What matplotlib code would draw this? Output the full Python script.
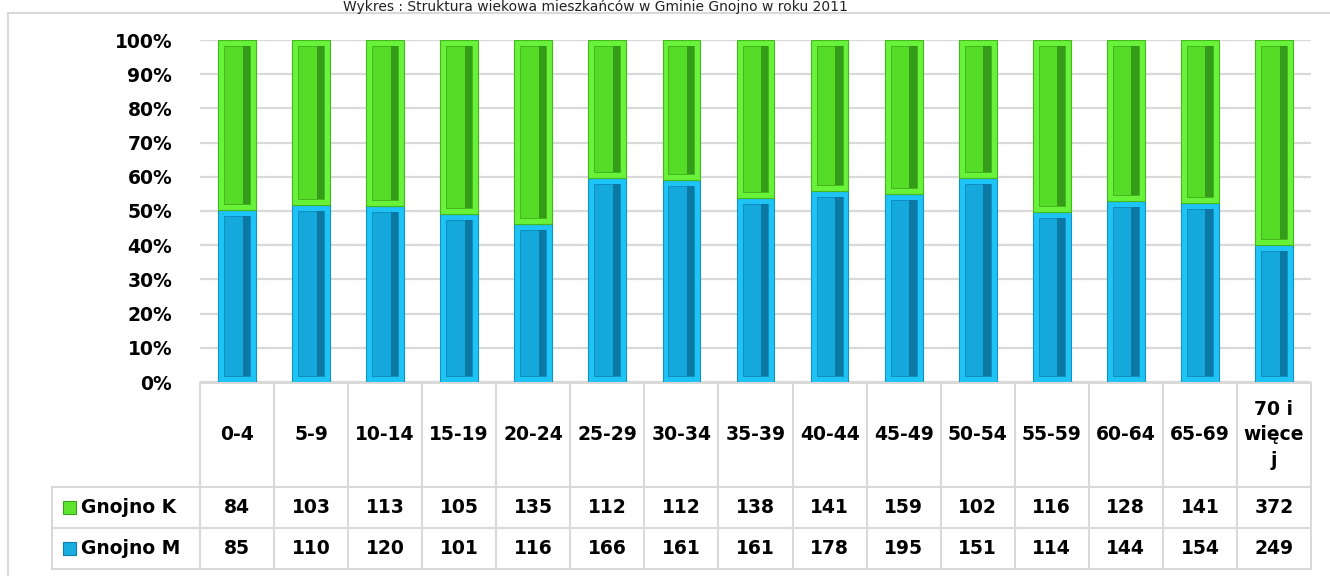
import numpy as np
import matplotlib.pyplot as plt
from matplotlib.patches import Rectangle
from matplotlib.transforms import blended_transform_factory

plt.rcParams['font.family'] = ['DejaVu Sans']

# data
groups = ['0-4', '5-9', '10-14', '15-19', '20-24', '25-29', '30-34', '35-39',
          '40-44', '45-49', '50-54', '55-59', '60-64', '65-69', '70 i\nwięce\nj']
gnojno_k = [84, 103, 113, 105, 135, 112, 112, 138, 141, 159, 102, 116, 128, 141, 372]
gnojno_m = [85, 110, 120, 101, 116, 166, 161, 161, 178, 195, 151, 114, 144, 154, 249]
series_names = ['Gnojno K', 'Gnojno M']
title = 'Wykres : Struktura wiekowa mieszkańców w Gminie Gnojno w roku 2011'

W, H = 1330, 576
fig = plt.figure(figsize=(W / 100, H / 100), dpi=100)

def fx(px):
    return px / W

def fy(py):
    return 1 - py / H

# outer frame
fig.patches.append(Rectangle((fx(8), fy(600)), fx(1340) - fx(8), fy(13) - fy(600),
                             transform=fig.transFigure, fill=False,
                             edgecolor='#d9d9d9', lw=1.5))
fig.text(fx(595), fy(0), title, ha='center', va='top', fontsize=10, color='#222222')

ax = fig.add_axes([fx(200), fy(382), fx(1311) - fx(200), fy(40) - fy(382)])

k = np.array(gnojno_k, dtype=float)
m = np.array(gnojno_m, dtype=float)
tot = k + m
m_share = m / tot
k_share = k / tot
x = np.arange(len(groups))

fs = 13.5
ax.set_xlim(-0.5, len(groups) - 0.5)
ax.set_ylim(0, 1)
ax.set_yticks(np.arange(0, 1.01, 0.1))
ax.set_yticklabels([f'{int(round(v * 100))}%' for v in np.arange(0, 1.01, 0.1)],
                   fontsize=fs, fontweight='bold')
ax.tick_params(axis='y', length=0, pad=20)
ax.set_xticks([])
ax.yaxis.grid(True, color='#d9d9d9', lw=1.6)
ax.set_axisbelow(True)
for s in ax.spines.values():
    s.set_visible(False)

inset = 6 / 342  # bevel thickness in axis units


def bevel_bar(bottom, height, face, inner, mid, dark, edge):
    ax.bar(x, height, bottom=bottom, width=0.51, color=face, edgecolor=edge, lw=0.8, zorder=2)
    ax.bar(x, height - 2 * inset, bottom=bottom + inset, width=0.35, color=inner,
           edgecolor=mid, lw=0.6, zorder=3)
    ax.bar(x + 0.125, height - 2 * inset, bottom=bottom + inset, width=0.1, color=dark,
           lw=0, zorder=4, alpha=0.8)


bevel_bar(0, m_share, '#1ec4f5', '#14a8dc', '#0e88b8', '#0a6e98', '#1592c2')
bevel_bar(m_share, k_share, '#68f23a', '#55dc26', '#3fae1c', '#2e8c16', '#45b81d')

# data table under the axis
tr = blended_transform_factory(ax.transData, fig.transFigure)
grid_c = '#d9d9d9'
y_top, y_r1, y_r2, y_bot = fy(383), fy(487), fy(528), fy(569)
for i in range(len(groups) + 1):
    ax.plot([i - 0.5, i - 0.5], [y_top, y_bot], color=grid_c, lw=1.5,
            transform=tr, clip_on=False)
for yy in (y_r1, y_r2, y_bot):
    fig.add_artist(plt.Line2D([fx(52), fx(1311)], [yy, yy], color=grid_c, lw=1.5,
                              transform=fig.transFigure))
fig.add_artist(plt.Line2D([fx(52), fx(52)], [y_r1, y_bot], color=grid_c, lw=1.5,
                          transform=fig.transFigure))
fig.add_artist(plt.Line2D([fx(200), fx(1311)], [y_top, y_top], color=grid_c, lw=1.5,
                          transform=fig.transFigure))

for i, g in enumerate(groups):
    ax.text(i, (y_top + y_r1) / 2, g, transform=tr, ha='center', va='center',
            fontsize=fs, fontweight='bold', linespacing=1.45)
    ax.text(i, (y_r1 + y_r2) / 2, str(gnojno_k[i]), transform=tr, ha='center',
            va='center', fontsize=fs, fontweight='bold')
    ax.text(i, (y_r2 + y_bot) / 2, str(gnojno_m[i]), transform=tr, ha='center',
            va='center', fontsize=fs, fontweight='bold')

for name, yc, col, ec in [(series_names[0], (y_r1 + y_r2) / 2, '#5fe52f', '#3aa51a'),
                          (series_names[1], (y_r2 + y_bot) / 2, '#1aaee0', '#0d7fae')]:
    sq = 13
    fig.patches.append(Rectangle((fx(63), yc - sq / 2 / H), sq / W, sq / H,
                                 transform=fig.transFigure, facecolor=col,
                                 edgecolor=ec, lw=0.8))
    fig.text(fx(81), yc, name, ha='left', va='center', fontsize=fs, fontweight='bold')

fig.savefig('out.png', dpi=100)
